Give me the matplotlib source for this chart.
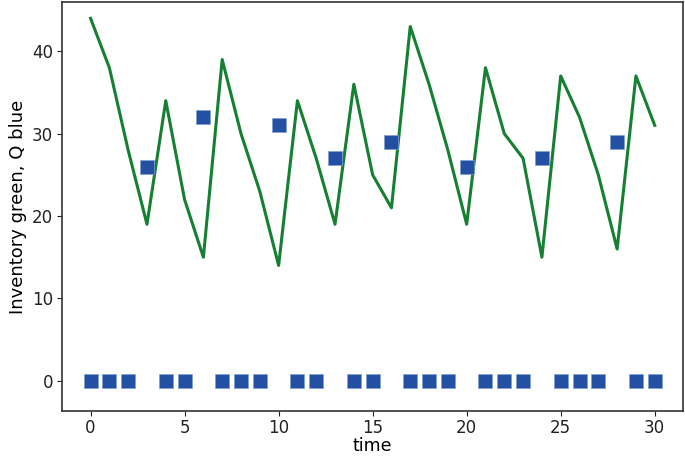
import numpy as np
import matplotlib
matplotlib.use('Agg')
import matplotlib.pyplot as plt

# inventory (green line) and order quantity Q (blue squares)
time = list(range(31))
inventory = [44, 38, 28, 19, 34, 22, 15, 39, 30, 23, 14, 34, 27, 19, 36, 25,
             21, 43, 36, 28, 19, 38, 30, 27, 15, 37, 32, 25, 16, 37, 31]
orders = [0, 0, 0, 26, 0, 0, 32, 0, 0, 0, 31, 0, 0, 27, 0, 0,
          29, 0, 0, 0, 26, 0, 0, 0, 27, 0, 0, 0, 29, 0, 0]

plt.rcParams['font.size'] = 12

fig = plt.figure(figsize=(6.85, 4.57), dpi=100)
ax = fig.add_axes([0.091, 0.1, 0.906, 0.896])
ax.plot(time, inventory, color='#157f32', lw=2.2)
ax.plot(time, orders, 's', color='#2350a3', markersize=9.5, mec='#7f9fd6', mew=0.5)
ax.set_xlabel('time', fontsize=12.5, labelpad=0)
ax.set_ylabel('Inventory green, Q blue', fontsize=13, labelpad=4)
ax.set_xlim(-1.5, 31.5)
ax.set_ylim(-3.7, 46)
ax.set_xticks([0, 5, 10, 15, 20, 25, 30])
ax.set_yticks([0, 10, 20, 30, 40])
for s in ax.spines.values():
    s.set_color('#333333')
    s.set_linewidth(1.2)
ax.tick_params(colors='#222222', pad=3)
ax.tick_params(axis='x', pad=2)
fig.savefig('out.png', dpi=100)
